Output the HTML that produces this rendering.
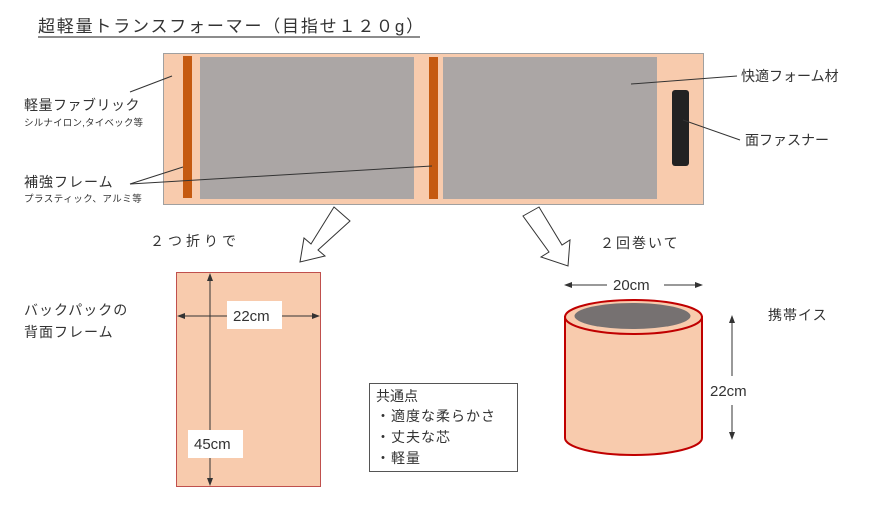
<!DOCTYPE html>
<html><head><meta charset="utf-8"><style>
body{margin:0;background:#fff;width:891px;height:501px;overflow:hidden;font-family:"Liberation Sans","Noto Sans CJK JP",sans-serif;}
svg text{font-family:"Liberation Sans","Noto Sans CJK JP",sans-serif;fill:#333;}
</style></head><body>
<svg width="891" height="501" viewBox="0 0 891 501">
<text x="38" y="32" font-size="17" letter-spacing="1.8">超軽量トランスフォーマー（目指せ１２０g）</text>
<line x1="38" y1="37" x2="420" y2="37" stroke="#666" stroke-width="1.5"/>
<rect x="163.5" y="53.5" width="540" height="151" fill="#f8cbad" stroke="#a0a0a0"/>
<rect x="183" y="56" width="9" height="142" fill="#c55a11"/>
<rect x="429" y="57" width="9" height="142" fill="#c55a11"/>
<rect x="200" y="57" width="214" height="142" fill="#aba6a5"/>
<rect x="443" y="57" width="214" height="142" fill="#aba6a5"/>
<rect x="672" y="90" width="17" height="76" rx="3" fill="#222"/>
<line x1="130" y1="92" x2="172" y2="76" stroke="#333"/>
<line x1="130" y1="184" x2="183" y2="167" stroke="#333"/>
<line x1="130" y1="184" x2="432" y2="166" stroke="#333"/>
<line x1="631" y1="84" x2="737" y2="76" stroke="#333"/>
<line x1="683" y1="120" x2="740" y2="140" stroke="#333"/>
<text x="24" y="110" font-size="14" letter-spacing="0.5">軽量ファブリック</text>
<text x="24" y="126" font-size="9.5" letter-spacing="0.2">シルナイロン,タイベック等</text>
<text x="24" y="187" font-size="14" letter-spacing="1">補強フレーム</text>
<text x="24" y="202" font-size="9.5" letter-spacing="0.5">プラスティック、アルミ等</text>
<text x="741" y="81" font-size="14">快適フォーム材</text>
<text x="745" y="145" font-size="14">面ファスナー</text>
<text x="150" y="246" font-size="14" letter-spacing="4">２つ折りで</text>
<text x="600" y="248" font-size="14" letter-spacing="2">２回巻いて</text>
<polygon points="334,207 350,221 318,250 325,256 300,262 304,238 311,244" fill="#fff" stroke="#333"/>
<polygon points="539,207 523,216 549,252 541,257 568,266 570,240 562,245" fill="#fff" stroke="#333"/>
<rect x="176.5" y="272.5" width="144" height="214" fill="#f8cbad" stroke="#c0504d"/>
<line x1="210" y1="276" x2="210" y2="483" stroke="#333"/>
<polygon points="210,273 207,281 213,281" fill="#333"/>
<polygon points="210,486 207,478 213,478" fill="#333"/>
<line x1="180" y1="316" x2="317" y2="316" stroke="#333"/>
<polygon points="177,316 185,313 185,319" fill="#333"/>
<polygon points="320,316 312,313 312,319" fill="#333"/>
<rect x="227" y="301" width="55" height="28" fill="#fff"/>
<text x="233" y="321" font-size="15">22cm</text>
<rect x="188" y="430" width="55" height="28" fill="#fff"/>
<text x="194" y="449" font-size="15">45cm</text>
<text x="24" y="315" font-size="14" letter-spacing="1">バックパックの</text>
<text x="24" y="337" font-size="14" letter-spacing="1">背面フレーム</text>
<rect x="369.5" y="383.5" width="148" height="88" fill="#fff" stroke="#555"/>
<text x="376" y="401" font-size="14">共通点</text>
<text x="376" y="421" font-size="14" letter-spacing="1">・適度な柔らかさ</text>
<text x="376" y="442" font-size="14" letter-spacing="1">・丈夫な芯</text>
<text x="376" y="463" font-size="14" letter-spacing="1">・軽量</text>
<line x1="567" y1="285" x2="607" y2="285" stroke="#333"/>
<polygon points="564,285 572,282 572,288" fill="#333"/>
<line x1="664" y1="285" x2="700" y2="285" stroke="#333"/>
<polygon points="703,285 695,282 695,288" fill="#333"/>
<text x="613" y="290" font-size="15">20cm</text>
<path d="M565,317 L565,438 A68.5,17 0 0 0 702,438 L702,317 Z" fill="#f8cbad" stroke="#c00000" stroke-width="2"/>
<ellipse cx="633.5" cy="317" rx="68.5" ry="17" fill="#f8cbad" stroke="#c00000" stroke-width="2"/>
<ellipse cx="632.5" cy="316" rx="58" ry="13" fill="#767171"/>
<line x1="732" y1="318" x2="732" y2="376" stroke="#333"/>
<polygon points="732,315 729,323 735,323" fill="#333"/>
<line x1="732" y1="405" x2="732" y2="437" stroke="#333"/>
<polygon points="732,440 729,432 735,432" fill="#333"/>
<text x="710" y="396" font-size="15">22cm</text>
<text x="768" y="320" font-size="14" letter-spacing="1">携帯イス</text>
</svg>
</body></html>
